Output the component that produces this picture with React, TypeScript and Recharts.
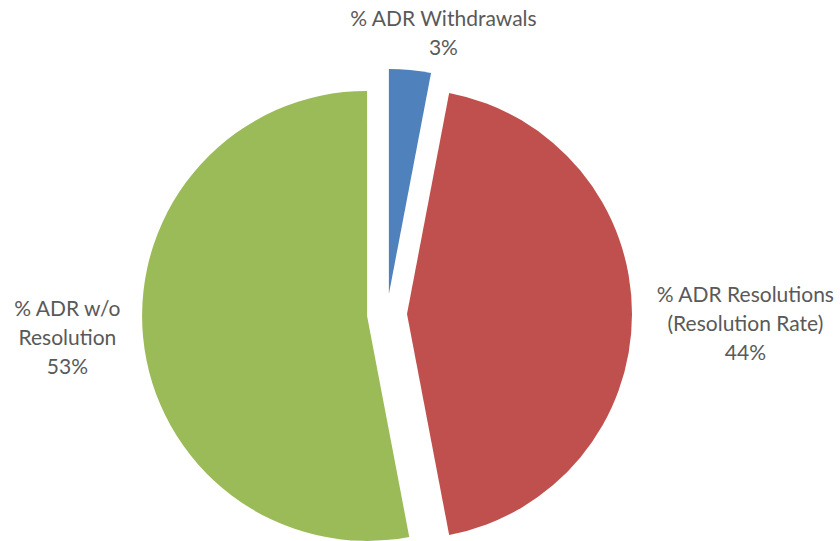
import { PieChart, Pie, Cell, Sector } from "recharts";

if (typeof document !== "undefined") document.body.style.margin = "0";

const categories = ["% ADR Withdrawals", "% ADR Resolutions\n(Resolution Rate)", "% ADR w/o\nResolution"];
const shares = [3, 44, 53];
const colors = ["#4F81BD", "#C0504D", "#9BBB59"];

const data = categories.map((name, i) => ({ name, value: shares[i] }));

const RADIAN = Math.PI / 180;
const EXPLODE = 20;
const FONT = "Lato, 'Open Sans', sans-serif";
const FONT_SIZE = 21;
const LINE_H = 29;
const CHAR_W = 10.4;
// Excel's "best fit" label placement, nudged by hand
const labelNudge = [
  [23, 12],
  [3, 8],
  [-2, -7],
];

const ExplodedSector = (props: any) => {
  const { cx, cy, midAngle, innerRadius, outerRadius, startAngle, endAngle, fill } = props;
  const ox = cx + EXPLODE * Math.cos(-midAngle * RADIAN);
  const oy = cy + EXPLODE * Math.sin(-midAngle * RADIAN);
  return (
    <Sector
      cx={ox}
      cy={oy}
      innerRadius={innerRadius}
      outerRadius={outerRadius}
      startAngle={startAngle}
      endAngle={endAngle}
      fill={fill}
      stroke="none"
    />
  );
};

const renderLabel = (props: any) => {
  const { cx, cy, midAngle, outerRadius, percent, name, index } = props;
  const lines: string[] = [...String(name).split("\n"), `${Math.round(percent * 100)}%`];
  const cos = Math.cos(-midAngle * RADIAN);
  const sin = Math.sin(-midAngle * RADIAN);
  const halfW = (Math.max(...lines.map((l) => l.length)) * CHAR_W) / 2;
  const halfH = (lines.length * LINE_H) / 2;
  const r = outerRadius + EXPLODE + 22;
  const [nx, ny] = labelNudge[index] ?? [0, 0];
  // push the label box outward so its near edge sits just off the pie
  const x = cx + r * cos + cos * halfW + nx;
  const y = cy + r * sin + sin * halfH + ny;
  const top = y - halfH + LINE_H / 2;
  return (
    <text
      x={x}
      y={top}
      textAnchor="middle"
      dominantBaseline="central"
      fill="#595959"
      fontFamily={FONT}
      fontSize={FONT_SIZE}
    >
      {lines.map((l, i) => (
        <tspan key={i} x={x} y={top + i * LINE_H}>
          {l}
        </tspan>
      ))}
    </text>
  );
};

export default function App() {
  return (
    <div style={{ width: 840, height: 541, background: "#fff" }}>
      <PieChart width={840} height={541} margin={{ top: 0, right: 0, bottom: 0, left: 0 }}>
        <Pie
          data={data}
          dataKey="value"
          nameKey="name"
          cx={387}
          cy={314}
          outerRadius={225}
          startAngle={90}
          endAngle={-270}
          stroke="none"
          shape={ExplodedSector}
          activeShape={ExplodedSector}
          inactiveShape={ExplodedSector}
          label={renderLabel}
          labelLine={false}
          isAnimationActive={false}
        >
          {data.map((d, i) => (
            <Cell key={d.name} fill={colors[i]} />
          ))}
        </Pie>
      </PieChart>
    </div>
  );
}
